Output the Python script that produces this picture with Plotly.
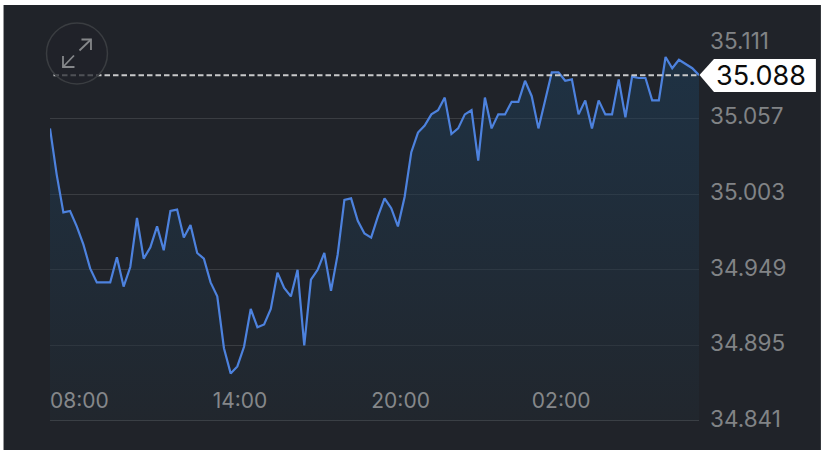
import pandas as pd
import plotly.graph_objects as go

prices = [35.050, 35.017, 34.990, 34.991, 34.980, 34.967, 34.950, 34.940, 34.940, 34.940,
          34.958, 34.937, 34.951, 34.986, 34.957, 34.965, 34.980, 34.963, 34.991, 34.992,
          34.972, 34.981, 34.961, 34.957, 34.940, 34.930, 34.893, 34.875, 34.880, 34.894,
          34.921, 34.908, 34.910, 34.921, 34.947, 34.936, 34.930, 34.949, 34.895, 34.942,
          34.949, 34.961, 34.934, 34.960, 34.999, 35.000, 34.984, 34.975, 34.972, 34.987,
          35.000, 34.993, 34.980, 35.001, 35.033, 35.047, 35.052, 35.060, 35.063, 35.072,
          35.046, 35.050, 35.060, 35.063, 35.027, 35.072, 35.050, 35.060, 35.060, 35.069,
          35.069, 35.084, 35.073, 35.050, 35.070, 35.090, 35.090, 35.084, 35.085, 35.060,
          35.070, 35.050, 35.070, 35.060, 35.060, 35.085, 35.058, 35.087, 35.086, 35.086,
          35.070, 35.070, 35.101, 35.093, 35.099, 35.096, 35.093, 35.088]
times = pd.date_range("2024-01-01 06:54", periods=len(prices), freq="15min")
y_ticks = [35.111, 35.057, 35.003, 34.949, 34.895, 34.841]
y_labels = ["35.111", "35.057", "35.003", "34.949", "34.895", "34.841"]
x_ticks = ["2024-01-01 08:00", "2024-01-01 14:00", "2024-01-01 20:00", "2024-01-02 02:00"]
x_labels = ["08:00", "14:00", "20:00", "02:00"]
last_price = prices[-1]

W, H = 823, 458
L, R, T, B = 49.5, 699, 43, 421
PANEL = "#202329"


def px(v):
    return (v - L) / (R - L)


def py(v):
    return (B - v) / (B - T)


def path(points, close=False):
    s = "M " + " L ".join(f"{px(a):.5f},{py(b):.5f}" for a, b in points)
    return s + (" Z" if close else "")


fig = go.Figure()
fig.add_trace(go.Scatter(
    x=times, y=prices, mode="lines",
    line=dict(color="#4d82de", width=2.2),
    fill="tozeroy",
    fillgradient=dict(type="vertical", start=34.841, stop=35.10,
                      colorscale=[[0, "rgba(34,42,50,0.5)"], [1, "rgba(29,64,94,0.5)"]]),
    hoverinfo="skip", showlegend=False,
))

icon = dict(type="path", xref="paper", yref="paper", layer="above",
            line=dict(color="#85878a", width=1.8))
shapes = [
    dict(type="rect", xref="paper", yref="paper", layer="below",
         x0=px(3), x1=px(821), y0=py(450), y1=py(5),
         fillcolor=PANEL, line=dict(width=0)),
    dict(type="line", xref="paper", yref="y", layer="above",
         x0=0, x1=1, y0=y_ticks[-1], y1=y_ticks[-1],
         line=dict(color="#55585c", width=1)),
    dict(type="line", xref="paper", yref="y", layer="above",
         x0=px(53), x1=1, y0=last_price, y1=last_price,
         line=dict(color="#c8c9ca", width=2, dash="5.5px,3px")),
    dict(type="circle", xref="paper", yref="paper", layer="above",
         x0=px(46), x1=px(107), y0=py(84), y1=py(23),
         fillcolor="rgba(32,35,41,0.72)", line=dict(color="#3a3d41", width=1.5)),
    dict(icon, path=path([(79, 50.5), (90.5, 39.5)])),
    dict(icon, path=path([(81, 39.5), (90.5, 39.5), (90.5, 50)])),
    dict(icon, path=path([(62.5, 67), (73.5, 55.5)])),
    dict(icon, path=path([(62.5, 56), (62.5, 67), (74, 67)])),
    dict(type="path", xref="paper", yref="paper", layer="above",
         path=path([(699.5, 75), (714, 59), (816, 59), (816, 92), (714, 92)], close=True),
         fillcolor="#ffffff", line=dict(width=0)),
]

fig.update_layout(
    width=W, height=H,
    margin=dict(l=L, r=W - R, t=T, b=H - B),
    paper_bgcolor="#ffffff", plot_bgcolor="rgba(0,0,0,0)",
    font=dict(family="Inter", color="#818386", size=21),
    showlegend=False,
    shapes=shapes,
    xaxis=dict(
        range=[times[0], times[-1]],
        tickmode="array", tickvals=x_ticks, ticktext=x_labels,
        showgrid=False, zeroline=False, showline=False,
        anchor="free", position=py(384),
        ticks="", ticklabelstandoff=2,
        tickfont=dict(size=21, color="#85878a"),
    ),
    yaxis=dict(
        range=[34.841, 35.111], side="right",
        tickmode="array", tickvals=y_ticks, ticktext=y_labels,
        showgrid=True, gridcolor="#3a3d42", gridwidth=1, zeroline=False,
        showline=False, ticks="", ticklabelstandoff=10, ticklabelshift=-2,
        tickfont=dict(size=22.5, color="#818386"),
    ),
    annotations=[dict(
        xref="paper", yref="y", x=px(761.5), y=last_price, text=f"{last_price:.3f}",
        showarrow=False, xanchor="center", yanchor="middle",
        font=dict(family="Inter", size=27, color="#0b0b0b"),
    )],
)

fig.write_html("out.html", config={"displayModeBar": False},
               post_script="document.body.style.margin='0';document.documentElement.style.overflow='hidden';")
